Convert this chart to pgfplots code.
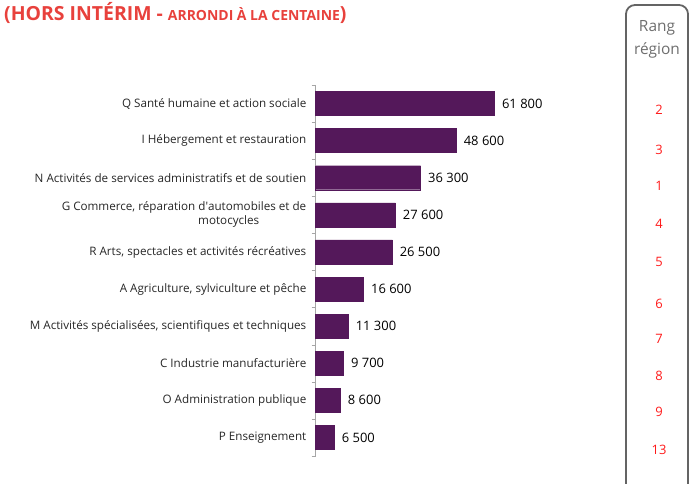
\documentclass[border=0pt]{standalone}
\usepackage{fontspec}
\setmainfont{Open Sans}
\usepackage{pgfplots}
\usepackage{pgfplotstable}
\pgfplotsset{compat=1.18}

\definecolor{barpurple}{RGB}{84,24,90}
\definecolor{titlered}{RGB}{232,65,60}
\definecolor{rankred}{RGB}{255,25,25}
\definecolor{boxgray}{RGB}{100,100,100}
\definecolor{labgray}{RGB}{110,110,110}

% effectifs salaries par secteur (hors interim)
\pgfplotstableread{
idx val
0 61800
1 48600
2 36300
3 27600
4 26500
5 16600
6 11300
7 9700
8 8600
9 6500
}\effectifs

\begin{document}
\begin{tikzpicture}[x=1bp,y=1bp]
\path[use as bounding box] (0,0) rectangle (695,484);
\coordinate (origine) at (315.5,28);

\node[anchor=north west, inner sep=0, text=titlered, font=\bfseries\fontsize{19.5}{21}\selectfont]
  at (4,482) {(HORS INTÉRIM - {\fontsize{14}{15}\selectfont ARRONDI À LA CENTAINE})};

\begin{axis}[
  at={(origine)}, anchor=south west,
  scale only axis, width=231.8bp, height=371bp,
  xmin=0, xmax=80000, ymin=-0.5, ymax=9.5,
  y dir=reverse,
  axis x line=none, axis y line*=left,
  axis line style={-, draw=gray!70},
  xbar, bar width=24bp, bar shift=0pt,
  ytick={0,...,9},
  yticklabels={
    Q Santé humaine et action sociale,
    I Hébergement et restauration,
    N Activités de services administratifs et de soutien,
    {G Commerce, réparation d\textquotesingle automobiles et de\\motocycles\hspace*{47bp}},
    {R Arts, spectacles et activités récréatives},
    {A Agriculture, sylviculture et pêche},
    {M Activités spécialisées, scientifiques et techniques},
    C Industrie manufacturière,
    O Administration publique,
    P Enseignement},
  yticklabel style={align=right, font=\fontsize{11.7}{14}\selectfont, text=black!85, inner xsep=9bp},
  major tick length=0pt,
  minor ytick={-0.5,0.5,...,9.5},
  minor tick length=4bp,
  tick align=outside,
  tick style={draw=gray!70},
  point meta=x,
  nodes near coords={\pgfmathprintnumber[1000 sep={\ }, assume math mode=true]{\pgfplotspointmeta}},
  nodes near coords style={anchor=west, xshift=4bp, font=\fontsize{13}{15}\selectfont, text=black},
  clip=false,
]
\addplot[fill=barpurple, draw=barpurple] table[x=val, y=idx] {\effectifs};
\end{axis}

\draw[boxgray, line width=1.8, rounded corners=9] (626,-20) rectangle (688,479);
\node[text=labgray, font=\fontsize{15.5}{17}\selectfont] at (657,456) {Rang};
\node[text=labgray, font=\fontsize{15.5}{17}\selectfont] at (657,434) {région};
\begin{scope}[every node/.style={text=rankred, font=\fontsize{13}{15}\selectfont}]
\node at (659,374) {2};
\node at (659,334) {3};
\node at (659,298) {1};
\node at (659,260) {4};
\node at (659,222) {5};
\node at (659,180) {6};
\node at (659,145) {7};
\node at (659,108) {8};
\node at (659,72) {9};
\node at (659,34) {13};
\end{scope}
\end{tikzpicture}
\end{document}
